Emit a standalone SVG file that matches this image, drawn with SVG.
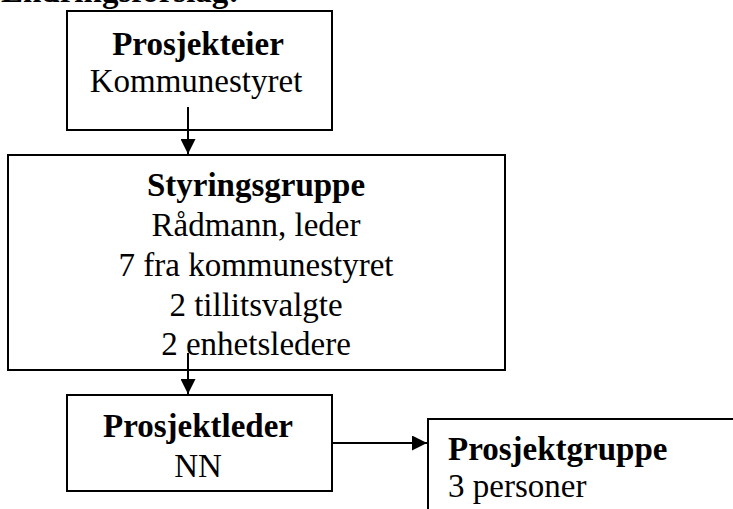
<svg xmlns="http://www.w3.org/2000/svg" width="733" height="509" viewBox="0 0 733 509">
<style>
text{font-family:"Liberation Serif","Times New Roman",serif;font-size:33px;fill:#000}
.b{font-weight:bold}
.c{text-anchor:middle}
.box{fill:#fff;stroke:#000;stroke-width:2}
.ln{stroke:#000;stroke-width:2;fill:none}
</style>
<defs>
<marker id="ah" markerWidth="15" markerHeight="15" refX="15" refY="7.5" orient="auto" markerUnits="userSpaceOnUse" viewBox="0 0 15 15">
<path d="M0,0 L15,7.5 L0,15 z" fill="#000"/>
</marker>
</defs>
<rect width="733" height="509" fill="#fff"/>
<text class="b" x="1" y="2">Endringsforslag:</text>
<g id="prosjekteier">
<rect class="box" x="67" y="11" width="265" height="119"/>
<text class="b c" x="198" y="55">Prosjekteier</text>
<text class="c" x="196" y="92">Kommunestyret</text>
</g>
<g id="styringsgruppe">
<rect class="box" x="8" y="155" width="497" height="215"/>
<text class="b c" x="256" y="196">Styringsgruppe</text>
<text class="c" x="256" y="236">Rådmann, leder</text>
<text class="c" x="256" y="276">7 fra kommunestyret</text>
<text class="c" x="256" y="316">2 tillitsvalgte</text>
<text class="c" x="256" y="355">2 enhetsledere</text>
</g>
<g id="prosjektleder">
<rect class="box" x="67" y="395" width="265" height="96"/>
<text class="b c" x="198" y="437">Prosjektleder</text>
<text class="c" x="198" y="477">NN</text>
</g>
<g id="prosjektgruppe">
<rect class="box" x="428" y="419" width="320" height="110"/>
<text class="b" x="448" y="460">Prosjektgruppe</text>
<text x="448" y="497">3 personer</text>
</g>
<g id="connectors">
<line class="ln" x1="188" y1="107" x2="188" y2="154" marker-end="url(#ah)"/>
<line class="ln" x1="188" y1="353" x2="188" y2="394" marker-end="url(#ah)"/>
<line class="ln" x1="332" y1="443" x2="427" y2="443" marker-end="url(#ah)"/>
</g>
</svg>
